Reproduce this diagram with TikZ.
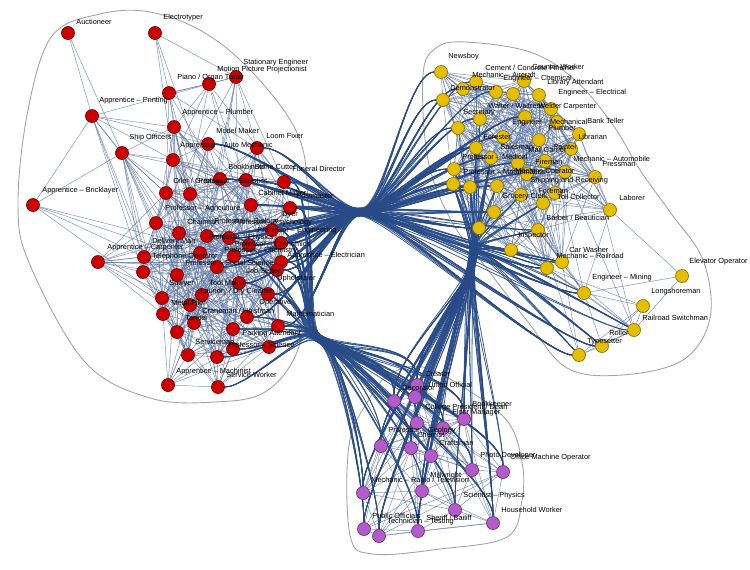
\documentclass[tikz,border=0pt]{standalone}
\usepackage{fontspec}
\setmainfont{Liberation Sans}
\usetikzlibrary{calc}
\pgfdeclarelayer{bg}
\pgfsetlayers{bg,main}

\definecolor{redocc}{HTML}{CC0000}
\definecolor{redrim}{HTML}{7A0000}
\definecolor{yelocc}{HTML}{E6BE00}
\definecolor{yelrim}{HTML}{927400}
\definecolor{purocc}{HTML}{B35CC9}
\definecolor{purrim}{HTML}{74338A}
\definecolor{linkcol}{HTML}{5770A2}
\definecolor{bundlecol}{HTML}{284B88}
\definecolor{hullcol}{HTML}{A3A3A3}

% occupations: name/x/y (pixels)
\newcommand{\redset}{r1/68/33, r2/155/33, r3/236/77, r4/209/84, r5/169/93, r6/92/116, r7/174/127, r8/122/153, r9/208/144, r10/257/148, r11/173/160, r12/220/179, r13/246/180, r14/284/182, r15/33/205, r16/166/193, r17/190/194, r18/251/205, r19/290/208, r20/156/223, r21/272/230, r22/179/233, r23/207/236, r24/229/238, r25/249/245, r26/281/243, r27/98/262, r28/144/257, r29/200/253, r30/234/256, r31/281/262, r32/143/272, r33/217/267, r34/277/270, r35/177/275, r36/239/283, r37/202/295, r38/268/294, r39/162/298, r40/190/305, r41/163/314, r42/247/317, r43/194/323, r44/278/326, r45/177/332, r46/233/329, r47/269/347, r48/233/349, r49/188/355, r50/217/357, r51/168/385, r52/218/387}
\newcommand{\yelset}{y1/441/72, y2/476/82, y3/463/89, y4/524/81, y5/443/100, y6/496/92, y7/513/94, y8/539/95, y9/551/109, y10/480/119, y11/458/128, y12/525/117, y13/557/122, y14/503/137, y15/539/140, y16/579/134, y17/476/148, y18/491/158, y19/518/163, y20/545/161, y21/571/149, y22/454/169, y23/527/174, y24/565/172, y25/595/177, y26/453/184, y27/470/187, y28/497/186, y29/521/195, y30/555/193, y31/543/203, y32/494/212, y33/479/228, y34/610/210, y35/538/230, y36/511/250, y37/562/262, y38/547/268, y39/682/276, y40/584/293, y41/643/306, y42/634/330, y43/602/346, y44/579/355}
\newcommand{\purset}{p1/417/385, p2/415/397, p3/394/401, p4/464/419, p5/417/423, p6/443/428, p7/381/446, p8/411/448, p9/431/456, p10/472/470, p11/503/472, p12/363/493, p13/422/491, p14/455/510, p15/493/523, p16/364/529, p17/379/536, p18/418/531}

% links inside one group: many short ones, a few long ones
\newcommand{\meshlinks}[3]{%
  \foreach \a/\ax/\ay [count=\i] in #1 {%
    \foreach \b/\bx/\by [count=\j] in #1 {%
      \ifnum\j>\i
        \pgfmathsetmacro\dd{veclen(\ax-\bx,\ay-\by)}%
        \pgfmathtruncatemacro\hit{rnd<exp(-(\dd/#3)^2)+#2*exp(-\dd/150)}%
        \ifnum\hit=1 \draw[lnk] (\a) -- (\b);\fi
      \fi}}}

\begin{document}
\begin{tikzpicture}[
  x=0.02cm, y=-0.02cm,
  oc/.style={circle, line width=0.4pt, minimum size=0.26cm, inner sep=0pt},
  lb/.style={font=\fontsize{4.2}{5}\selectfont, anchor=west, inner sep=0pt, text=black},
  lnk/.style={draw=linkcol, line width=0.3pt, opacity=0.72},
  bnd/.style={draw=bundlecol, line width=0.45pt, opacity=0.9},
  hl/.style={draw=hullcol, line width=0.5pt}
]
\useasboundingbox (0,0) rectangle (750,569);
\pgfmathsetseed{11}

\foreach \n/\x/\y in \redset {\node[oc, fill=redocc, draw=redrim] (\n) at (\x,\y) {};}
\foreach \n/\x/\y in \yelset {\node[oc, fill=yelocc, draw=yelrim] (\n) at (\x,\y) {};}
\foreach \n/\x/\y in \purset {\node[oc, fill=purocc, draw=purrim] (\n) at (\x,\y) {};}

% labels
\foreach \x/\y/\t [count=\k] in {76/22/Auctioneer, 163/18/Electrotyper, 243/63/Stationary Engineer, 217/70/Motion Picture Projectionist, 177/78/{Piano / Organ Tuner}, 99/101/Apprentice -- Printing, 182/113/Apprentice -- Plumber, 216/131/Model Maker, 129/138/Ship Officers, 266/136/Loom Fixer, 180/146/Apprentice -- Auto Mechanic, 228/167/Bookbinder, 254/167/Stone Cutter, 292/169/Funeral Director, 173/181/{Oiler / Greaser}, 198/181/Professor -- Statistics, 42/191/Apprentice -- Bricklayer, 258/193/Cabinet Maker, 296/196/Postmaster, 165/209/Professor -- Agriculture, 282/215/Dyer, 187/222/Chairman, 214/222/Professor -- Biology, 234/223/Professor -- Psychology, 257/231/Professor -- Engineering, 208/238/Professor -- Physics, 152/242/Delivery Man, 234/244/Professor -- Economics, 107/248/Apprentice -- Carpenter, 224/251/Professor -- Chemistry, 287/256/Apprentice -- Electrician, 152/257/Telephone Operator, 185/263/Professor -- Social Science, 246/271/Job Setter, 277/279/Upholsterer, 209/283/Tool Maker, 169/284/Sawyer, 200/292/{Laundry / Dry Cleaner}, 171/303/Metal Filer, 259/303/Operative, 202/311/{Craneman / Hoistman}, 286/314/Mathematician, 185/318/Tanner, 242/334/Parking Attendant, 195/342/Serviceman, 228/345/Professor -- Science, 176/372/Apprentice -- Machinist, 226/375/Service Worker}
  \node[lb] (lr\k) at (\x,\y) {\t};
\foreach \x/\y/\t [count=\k] in {448/57/Newsboy, 485/68/{Cement / Concrete Finisher}, 532/67/Counter Worker, 472/75/Mechanic -- Aircraft, 503/79/Engineer -- Chemical, 547/83/Library Attendant, 558/93/Engineer -- Electrical, 450/88/Demonstrator, 488/106/{Waiter / Waitress}, 538/106/Welder, 563/107/Carpenter, 463/113/Secretary, 587/121/Bank Teller, 512/123/Engineer -- Mechanical, 548/128/Plumber, 483/137/Forester, 578/137/Librarian, 500/147/Salesman, 553/147/Painter, 528/150/Mail Carrier, 462/157/Professor -- Medical, 573/159/Mechanic -- Automobile, 535/162/Fireman, 602/164/Pressman, 463/172/Professor -- Mathematics, 515/172/Machine Operator, 530/181/Shipping and Receiving, 538/191/Foreman, 502/197/Grocery Clerk, 557/197/Toll Collector, 619/198/Laborer, 546/218/{Barber / Beautician}, 518/236/Inspector, 569/250/Car Washer, 556/256/Mechanic -- Railroad, 689/262/Elevator Operator, 592/278/Engineer -- Mining, 651/292/Longshoreman, 642/318/Railroad Switchman, 609/333/Roller, 587/342/Typesetter}
  \node[lb] (ly\k) at (\x,\y) {\t};
\foreach \x/\y/\t [count=\k] in {425/374/Creator, 428/385/Union Official, 402/388/Decorator, 472/405/Bookkeeper, 425/408/{College President / Dean}, 452/413/Floor Manager, 388/431/Professor -- Geology, 417/435/Chemist, 439/443/Craftsman, 480/456/Photo Developer, 510/458/Office Machine Operator, 430/476/Millwright, 371/480/{Mechanic -- Radio / Television}, 463/496/Scientist -- Physics, 501/510/Household Worker, 372/516/Public Officials, 426/518/{Sheriff / Bailiff}, 387/522/Technician -- Testing}
  \node[lb] (lp\k) at (\x,\y) {\t};

\begin{pgfonlayer}{bg}
% group outlines
\draw[hl] plot[smooth cycle, tension=0.6] coordinates {(18,205) (28,110) (52,36) (100,14) (150,12) (205,33) (255,75) (298,135) (308,200) (306,290) (297,352) (265,392) (215,402) (150,398) (85,362) (30,265)};
\draw[hl] plot[smooth cycle, tension=0.6] coordinates {(423,75) (436,48) (465,42) (530,52) (575,80) (613,125) (640,170) (670,212) (703,260) (710,318) (683,360) (622,375) (567,368) (528,322) (488,270) (452,222) (428,160)};
\draw[hl] plot[smooth cycle, tension=0.6] coordinates {(370,398) (390,374) (423,367) (468,390) (508,422) (522,462) (522,500) (507,537) (440,549) (373,554) (350,535) (349,445)};

\meshlinks{\redset}{0.12}{100}
\meshlinks{\yelset}{0.15}{95}
\meshlinks{\purset}{0.35}{90}

% bundled links between groups
\foreach \a in {r9,r10,r12,r13,r14,r18,r19,r21,r23,r24,r25,r26,r30,r31,r33,r34,r36,r38,r42,r44}
  \foreach \b in {y1,y2,y3,y5,y6,y10,y11,y12,y14,y17,y18,y19,y22,y23,y26,y27,y28,y32,y33,y35,y36,y37,y38,y40,y42,y43,y44} {
    \pgfmathtruncatemacro\hit{rnd<0.3}
    \ifnum\hit=1
      \pgfmathsetmacro\jt{4*rand}
      \draw[bnd] (\a) .. controls +(35,0) and (338,{212+\jt}) .. (360,{212+\jt})
        .. controls (384,{212+\jt}) and ($(\b)+(-35,0)$) .. (\b);
    \fi}
\foreach \a in {r14,r19,r21,r24,r26,r30,r31,r34,r36,r38,r42,r44,r46,r47,r48,r50,r52}
  \foreach \b in {p1,p2,p3,p4,p5,p6,p7,p8,p9,p10,p11,p12,p13,p14,p15,p16,p17,p18} {
    \pgfmathtruncatemacro\hit{rnd<0.3}
    \ifnum\hit=1
      \pgfmathsetmacro\jt{4*rand}
      \draw[bnd] (\a) .. controls +(30,0) and ({304-0.6*\jt},{329+0.8*\jt}) .. ({318-0.6*\jt},{338+0.8*\jt})
        .. controls ({338-0.6*\jt},{351+0.8*\jt}) and ($(\b)+(0,-45)$) .. (\b);
    \fi}
\foreach \a in {y10,y11,y17,y18,y22,y26,y27,y28,y29,y31,y32,y33,y35,y36,y37,y38,y40,y42,y43,y44}
  \foreach \b in {p1,p2,p3,p4,p5,p6,p7,p8,p9,p10,p11,p12,p13,p14,p15,p16,p17,p18} {
    \pgfmathtruncatemacro\hit{rnd<0.27}
    \ifnum\hit=1
      \pgfmathsetmacro\jt{4*rand}
      \draw[bnd] (\a) .. controls ({475+\jt},244) .. ({472+\jt},262)
        .. controls ({469+\jt},290) and ($(\b)+(0,-45)$) .. (\b);
    \fi}
\end{pgfonlayer}
\end{tikzpicture}
\end{document}
